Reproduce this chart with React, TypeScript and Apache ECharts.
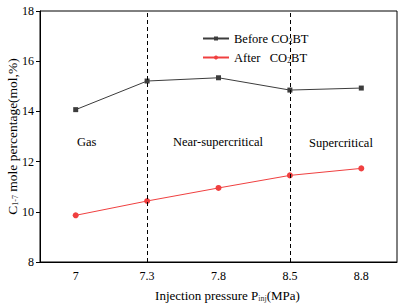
import React, { useEffect, useRef } from "react";
import * as echarts from "echarts";

const categories = ["7", "7.3", "7.8", "8.5", "8.8"];
const beforeValues = [14.07, 15.21, 15.34, 14.85, 14.93];
const afterValues = [9.86, 10.43, 10.95, 11.45, 11.73];
const boundaryCategories = ["7.3", "8.5"];
const yTicks = { min: 8, max: 18, interval: 2 };

const FONT = "Liberation Serif";

export default function App() {
  const ref = useRef<HTMLDivElement>(null);
  useEffect(() => {
    if (!ref.current) return;
    const chart = echarts.init(ref.current, undefined, { renderer: "svg" });
    const rich = {
      sub: { fontSize: 8, verticalAlign: "bottom", padding: [5, 0, 0, 0], fontFamily: FONT, color: "#333" },
    };
    chart.setOption({
      animation: false,
      backgroundColor: "#fff",
      textStyle: { fontFamily: FONT, color: "#000" },
      grid: {
        left: 40, right: 9, top: 11, bottom: 43,
        show: true, borderColor: "#000", borderWidth: 1,
        containLabel: false, outerBoundsMode: "none",
      },
      legend: {
        orient: "vertical",
        left: 197,
        top: 27,
        itemWidth: 26,
        itemHeight: 5,
        itemGap: 6,
        textStyle: { fontFamily: FONT, fontSize: 12.5, color: "#000", rich },
        formatter: (name: string) =>
          name === "Before" ? "Before CO{sub|2}BT" : "After   CO{sub|2}BT",
        data: ["Before", "After"],
      },
      xAxis: {
        type: "category",
        data: categories,
        boundaryGap: true,
        axisLine: { lineStyle: { color: "#000", width: 1 } },
        axisTick: { inside: true, length: 4, alignWithLabel: true, lineStyle: { color: "#000" } },
        axisLabel: { color: "#000", fontFamily: FONT, fontSize: 12, margin: 8 },
        name: "Injection pressure P{sub|inj}(MPa)",
        nameLocation: "middle",
        nameGap: 27,
        nameMoveOverlap: false,
        nameTextStyle: { color: "#000", fontFamily: FONT, fontSize: 13, rich, padding: [0, 0, 0, 18] },
        splitLine: { show: false },
      },
      yAxis: {
        type: "value",
        min: yTicks.min,
        max: yTicks.max,
        interval: yTicks.interval,
        axisLine: { show: true, lineStyle: { color: "#000", width: 1 } },
        axisTick: { show: true, inside: false, length: 4, lineStyle: { color: "#000" } },
        axisLabel: { color: "#000", fontFamily: FONT, fontSize: 12, margin: 6 },
        splitLine: { show: false },
        name: "C{sub|1-7} mole percentage(mol,%)",
        nameLocation: "middle",
        nameGap: 21,
        nameMoveOverlap: false,
        nameTextStyle: { color: "#000", fontFamily: FONT, fontSize: 13.5, rich },
      },
      graphic: [
        { type: "text", left: 77, top: 135, style: { text: "Gas", fontFamily: FONT, fontSize: 12.5, fill: "#000" } },
        { type: "text", left: 173, top: 135, style: { text: "Near-supercritical", fontFamily: FONT, fontSize: 12.5, fill: "#000" } },
        { type: "text", left: 309, top: 136, style: { text: "Supercritical", fontFamily: FONT, fontSize: 12.5, fill: "#000" } },
      ],
      series: [
        {
          name: "Before",
          type: "line",
          data: beforeValues,
          symbol: "rect",
          symbolSize: 5,
          itemStyle: { color: "#3c3c3c" },
          lineStyle: { color: "#3c3c3c", width: 1 },
          markLine: {
            silent: true,
            symbol: "none",
            label: { show: false },
            lineStyle: { color: "#000", type: [4, 3], width: 1 },
            data: boundaryCategories.map((c) => ({ xAxis: c })),
          },
        },
        {
          name: "After",
          type: "line",
          data: afterValues,
          symbol: "circle",
          symbolSize: 6,
          itemStyle: { color: "#f04040" },
          lineStyle: { color: "#f04040", width: 1 },
        },
      ],
    });
    return () => chart.dispose();
  }, []);
  return <div ref={ref} style={{ position: "fixed", left: 0, top: 0, width: 406, height: 305 }} />;
}
